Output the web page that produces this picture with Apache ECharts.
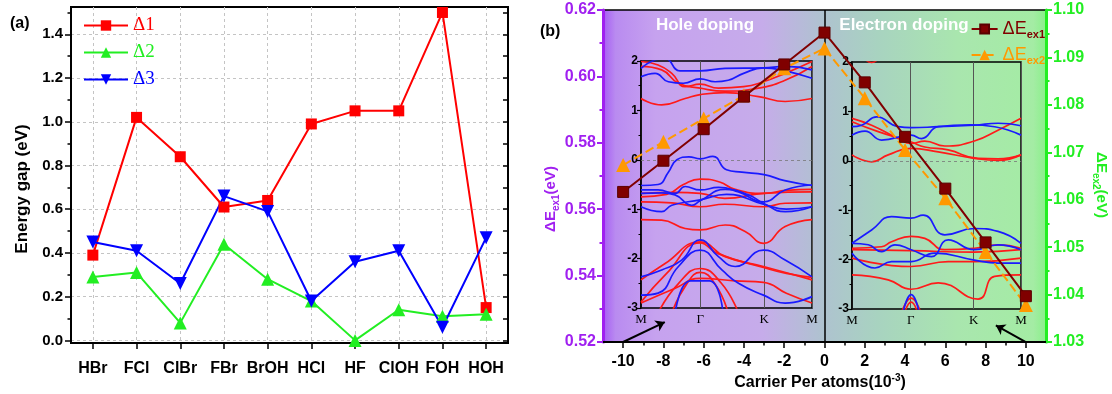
<!DOCTYPE html>
<html>
<head>
<meta charset="utf-8">
<script src="https://cdn.jsdelivr.net/npm/echarts@6/dist/echarts.min.js"></script>
<style>
html,body{margin:0;padding:0;background:#fff;}
#chart{width:1112px;height:394px;}
</style>
</head>
<body>
<div id="chart"></div>
<script>
// ---------- (a) energy gaps of the Janus structures ----------
const categories = ['HBr','FCl','ClBr','FBr','BrOH','HCl','HF','ClOH','FOH','HOH'];
const delta1 = [0.39,1.02,0.84,0.61,0.64,0.99,1.05,1.05,1.50,0.15];
const delta2 = [0.29,0.31,0.08,0.44,0.28,0.18,0.00,0.14,0.11,0.12];
const delta3 = [0.45,0.41,0.26,0.66,0.59,0.18,0.36,0.41,0.06,0.47];
const gapTicks = [0,0.2,0.4,0.6,0.8,1.0,1.2,1.4];
const gapMinorTicks = [0.1,0.3,0.5,0.7,0.9,1.1,1.3,1.5];
const gapRightTicks = [0,0.1,0.2,0.3,0.4,0.5,0.6,0.7,0.8,0.9,1.0,1.1,1.2,1.3,1.4,1.5];

// ---------- (b) exchange energies vs. carrier concentration ----------
const carrier = [-10,-8,-6,-4,-2,0,2,4,6,8,10];
const dEex1 = [0.5652,0.5746,0.5841,0.5939,0.6036,0.6132,0.5982,0.5818,0.5662,0.5500,0.5338];
const dEex2 = [1.0673,1.0722,1.0771,1.0820,1.0877,1.0919,1.0814,1.0705,1.0603,1.0490,1.0378];
const carrierTicks = [-10,-8,-6,-4,-2,0,2,4,6,8,10];
const carrierMinorTicks = [-9,-7,-5,-3,-1,1,3,5,7,9];
// arrows from the end points to the band-structure insets: [tail, head]
const arrowNotes = [
  [[-10,0.52],[-7.93,0.526]],
  [[10,0.52],[8.51,0.525]]
];

// ---------- band structures (k along M-Γ-K-M, energy in eV) ----------
const kTicks = [0,0.347,0.72,1];
const kLabels = ['M','Γ','K','M'];
const holeRed = [
  [[0,1.99],[0.1,1.92],[0.18,1.75],[0.258,1.48],[0.346,1.53],[0.453,1.45],[0.6,1.48],[0.716,1.58],[0.843,1.75],[1,1.99]],
  [[0,1.89],[0.121,1.82],[0.219,1.55],[0.346,1.45],[0.492,1.39],[0.687,1.45],[0.843,1.61],[1,1.89]],
  [[0,1.24],[0.121,1.11],[0.258,1.24],[0.346,1.32],[0.492,1.36],[0.687,1.28],[0.843,1.18],[1,1.24]],
  [[0,-0.75],[0.15,-0.7],[0.248,-0.5],[0.346,-0.39],[0.46,-0.45],[0.55,-0.6],[0.716,-0.68],[0.85,-0.62],[1,-0.6]],
  [[0,-0.68],[0.2,-0.66],[0.346,-0.68],[0.49,-0.78],[0.716,-0.68],[1,-0.65]],
  [[0,-0.85],[0.18,-0.87],[0.346,-0.95],[0.49,-0.9],[0.716,-0.95],[0.843,-0.88],[1,-0.87]],
  [[0,-1.21],[0.121,-1.22],[0.258,-1.39],[0.346,-1.42],[0.492,-1.32],[0.609,-1.45],[0.716,-1.69],[0.843,-1.35],[1,-1.21]],
  [[0,-2.43],[0.141,-2.1],[0.346,-1.66],[0.492,-1.96],[0.716,-2.16],[1,-2.43]],
  [[0,-2.88],[0.15,-2.3],[0.346,-1.68],[0.45,-1.9],[0.716,-2.18],[0.85,-2.3],[1,-2.38]],
  [[0.1,-3.1],[0.22,-2.5],[0.346,-2.2],[0.47,-2.5],[0.57,-3.1]],
  [[0.18,-3.1],[0.27,-2.5],[0.346,-2.28],[0.43,-2.5],[0.51,-3.1]],
  [[0,-2.9],[0.2,-2.6],[0.346,-2.4],[0.55,-2.45],[0.716,-2.48],[0.85,-2.7],[1,-2.9]]
];
const holeBlue = [
  [[0,1.85],[0.082,2.02],[0.141,2.05],[0.228,1.8],[0.346,1.8],[0.492,1.85],[0.716,1.86],[0.843,1.89],[1,1.82]],
  [[0,1.68],[0.082,1.75],[0.16,1.58],[0.248,1.55],[0.346,1.64],[0.433,1.58],[0.51,1.61],[0.6,1.75],[0.716,1.86],[0.843,1.8],[1,1.65]],
  [[0,-0.52],[0.1,-0.5],[0.16,-0.25],[0.21,0.0],[0.28,0.06],[0.346,0.02],[0.42,0.07],[0.5,-0.2],[0.59,-0.25],[0.72,-0.3],[0.84,-0.42],[1,-0.52]],
  [[0,-0.61],[0.1,-0.61],[0.199,-0.68],[0.258,-0.54],[0.346,-0.61],[0.453,-0.56],[0.57,-0.65],[0.716,-0.85],[0.843,-0.61],[1,-0.51]],
  [[0,-0.68],[0.121,-0.67],[0.199,-0.71],[0.297,-0.92],[0.346,-0.83],[0.492,-0.6],[0.629,-0.71],[0.716,-0.88],[0.843,-1.05],[1,-0.95]],
  [[0,-0.95],[0.121,-1.05],[0.18,-0.92],[0.346,-0.81],[0.5,-0.7],[0.716,-0.9],[0.85,-1.0],[1,-0.95]],
  [[0,-2.37],[0.121,-2.23],[0.238,-2.03],[0.346,-1.62],[0.453,-1.96],[0.551,-2.16],[0.716,-1.83],[0.843,-2.03],[1,-2.37]],
  [[0,-2.74],[0.1,-2.7],[0.219,-2.16],[0.346,-1.83],[0.473,-2.23],[0.57,-2.5],[0.716,-2.74],[0.843,-2.9],[1,-2.77]],
  [[0.2,-3.1],[0.29,-2.45],[0.4,-2.45],[0.48,-3.1]]
];
const elecRed = [
  [[0.07,2.08],[0.116,1.99],[0.16,2.08]],
  [[0,0.86],[0.116,0.72],[0.273,0.45],[0.35,0.35],[0.431,0.4],[0.549,0.3],[0.724,0.4],[0.864,0.62],[1,0.86]],
  [[0,0.79],[0.155,0.59],[0.35,0.38],[0.431,0.28],[0.569,0.22],[0.746,0.05],[0.864,0.04],[1,0.12]],
  [[0,0.12],[0.116,-0.02],[0.214,0.12],[0.35,0.25],[0.51,0.18],[0.724,0.05],[0.864,0.01],[1,0.12]],
  [[0,-1.77],[0.175,-1.74],[0.234,-1.64],[0.35,-1.53],[0.431,-1.57],[0.549,-1.8],[0.724,-1.77],[0.864,-1.7],[1,-1.77]],
  [[0,-1.8],[0.35,-1.82],[0.724,-1.85],[1,-1.8]],
  [[0,-1.97],[0.35,-2.14],[0.569,-2.04],[0.724,-2.04],[1,-1.97]],
  [[0,-2.31],[0.214,-2.41],[0.35,-2.6],[0.51,-2.47],[0.746,-2.8],[0.844,-2.34],[1,-2.31]],
  [[0.29,-3.1],[0.35,-2.78],[0.41,-3.1]],
  [[0.31,-3.1],[0.35,-2.86],[0.39,-3.1]]
];
const elecBlue = [
  [[0,0.69],[0.057,0.72],[0.146,0.89],[0.273,0.69],[0.35,0.67],[0.51,0.69],[0.724,0.72],[0.864,0.76],[1,0.71]],
  [[0,0.52],[0.077,0.6],[0.175,0.42],[0.35,0.52],[0.411,0.45],[0.51,0.69],[0.7,0.73],[0.844,0.69],[1,0.52]],
  [[0,-1.67],[0.116,-1.4],[0.234,-1.13],[0.35,-1.16],[0.421,-1.1],[0.549,-1.5],[0.724,-1.37],[0.864,-1.43],[1,-1.67]],
  [[0,-1.67],[0.096,-1.7],[0.175,-1.84],[0.254,-1.7],[0.35,-1.8],[0.47,-1.94],[0.569,-1.6],[0.724,-1.8],[0.864,-1.7],[1,-1.8]],
  [[0,-1.87],[0.136,-2.17],[0.234,-2.04],[0.35,-2.04],[0.49,-1.87],[0.724,-2.01],[0.864,-2.07],[1,-2.07]],
  [[0.3,-3.1],[0.35,-2.71],[0.4,-3.1]]
];

// ---------- styling ----------
const SANS = 'Arial, "Liberation Sans", sans-serif';
const SERIF = '"Times New Roman", "Liberation Serif", serif';
const RED = '#ff0000', GREEN = '#22ee22', BLUE = '#0000ff';
const PURPLE = '#a020f0', LIME = '#22ee22';
const DARKRED = '#800000', ORANGE = '#ff9900';
const BAND_RED = '#ff1a1a', BAND_BLUE = '#1a1aff';

const chart = echarts.init(document.getElementById('chart'), null, {renderer: 'canvas'});

function bandSeries(bands, color, xi, yi, withZero) {
  return bands.map((pts, i) => {
    const s = {
      type: 'line', xAxisIndex: xi, yAxisIndex: yi, data: pts,
      smooth: 0.5, symbol: 'none', silent: true, z: 1,
      lineStyle: {color: color, width: 1.7}
    };
    if (withZero && i === 0) {
      s.markLine = {
        silent: true, symbol: 'none', label: {show: false},
        lineStyle: {type: [3, 3], color: '#777', width: 0.8},
        data: [{yAxis: 0}]
      };
    }
    return s;
  });
}

function insetX(gi) {
  return {
    gridIndex: gi, type: 'value', min: 0, max: 1,
    axisLine: {show: false, onZero: false},
    axisTick: {show: false, customValues: kTicks},
    axisLabel: {customValues: kTicks, formatter: v => kLabels[kTicks.indexOf(v)],
      fontFamily: SERIF, fontSize: 13, color: '#000', margin: 5},
    splitLine: {show: true, lineStyle: {color: '#555', width: 1}}
  };
}
function insetY(gi) {
  return {
    gridIndex: gi, type: 'value', min: -3, max: 2, interval: 1,
    axisLine: {show: true, onZero: false, lineStyle: {color: '#000', width: 1.5}},
    axisTick: {show: true, length: 4, lineStyle: {color: '#000', width: 1.2}},
    minorTick: {show: true, splitNumber: 2, length: 2.5, lineStyle: {color: '#000', width: 1}},
    axisLabel: {fontFamily: SANS, fontWeight: 'bold', fontSize: 12, color: '#000', margin: 3},
    splitLine: {show: false}
  };
}

const subRich = (color, size) => ({
  m: {fontFamily: SANS, fontSize: size, color: color, fill: color},
  s: {fontFamily: SANS, fontSize: 11, fontWeight: 'bold', color: color, fill: color,
      verticalAlign: 'bottom', padding: [12, 0, 0, 0]}
});

const option = {
  animation: false,
  backgroundColor: '#ffffff',
  grid: [
    {left: 71, top: 7, width: 437, height: 336, show: true, borderColor: '#000', borderWidth: 2, backgroundColor: '#ffffff'},
    {left: 603, top: 10, width: 443, height: 332, show: true, borderColor: '#000', borderWidth: 1.5,
     backgroundColor: {type: 'linear', x: 0, y: 0, x2: 1, y2: 0, colorStops: [
       {offset: 0, color: '#a65af4'}, {offset: 0.03, color: '#b98bf0'}, {offset: 0.12, color: '#c6a2ef'},
       {offset: 0.36, color: '#c6acea'}, {offset: 0.5, color: '#aec3cf'}, {offset: 0.62, color: '#a8d3c0'},
       {offset: 0.8, color: '#a9e6ae'}, {offset: 0.97, color: '#a4eca4'}, {offset: 1, color: '#88f088'}]}},
    {left: 641, top: 61, width: 171, height: 247, show: true, borderColor: '#000', borderWidth: 1.5, backgroundColor: 'transparent'},
    {left: 852, top: 62, width: 169, height: 247, show: true, borderColor: '#000', borderWidth: 1.5, backgroundColor: 'transparent'}
  ],
  xAxis: [
    {gridIndex: 0, type: 'value', min: -0.5, max: 9.5,
     axisLine: {show: true, onZero: false, lineStyle: {color: '#000', width: 2}},
     axisTick: {show: true, customValues: categories.map((c, i) => i), length: 6, lineStyle: {color: '#000', width: 1.5}},
     axisLabel: {customValues: categories.map((c, i) => i), formatter: v => categories[v],
       fontFamily: SANS, fontWeight: 'bold', fontSize: 16, color: '#000', margin: 18},
     splitLine: {show: true, lineStyle: {type: [3, 3], color: '#c4c4c4', width: 1}}},
    {gridIndex: 1, type: 'value', min: -11, max: 11,
     axisLine: {show: true, onZero: false, lineStyle: {color: '#000', width: 2}},
     axisTick: {show: true, customValues: carrierTicks, length: 6, lineStyle: {color: '#000', width: 1.5}},
     axisLabel: {customValues: carrierTicks, fontFamily: SANS, fontWeight: 'bold', fontSize: 16, color: '#000', margin: 12},
     splitLine: {show: false}},
    {gridIndex: 1, type: 'value', min: -11, max: 11, position: 'bottom',
     axisLine: {show: false, onZero: false},
     axisTick: {show: true, customValues: carrierMinorTicks, length: 3.5, lineStyle: {color: '#000', width: 1.5}},
     axisLabel: {show: false}, splitLine: {show: false}},
    insetX(2),
    insetX(3)
  ],
  yAxis: [
    {gridIndex: 0, type: 'value', min: -0.012, max: 1.525, position: 'left',
     axisLine: {show: true, onZero: false, lineStyle: {color: '#000', width: 2}},
     axisTick: {show: true, customValues: gapTicks, length: 6, lineStyle: {color: '#000', width: 1.5}},
     axisLabel: {customValues: gapTicks, formatter: v => v.toFixed(1),
       fontFamily: SANS, fontWeight: 'bold', fontSize: 15, color: '#000', margin: 8},
     splitLine: {show: true, lineStyle: {type: [3, 3], color: '#c4c4c4', width: 1}}},
    {gridIndex: 0, type: 'value', min: -0.012, max: 1.525, position: 'left',
     axisLine: {show: false, onZero: false},
     axisTick: {show: true, customValues: gapMinorTicks, length: 3.5, lineStyle: {color: '#000', width: 1.5}},
     axisLabel: {show: false}, splitLine: {show: false}},
    {gridIndex: 0, type: 'value', min: -0.012, max: 1.525, position: 'right',
     axisLine: {show: true, onZero: false, lineStyle: {color: '#000', width: 2}},
     axisTick: {show: true, inside: true, customValues: gapRightTicks, length: 5, lineStyle: {color: '#000', width: 1.5}},
     axisLabel: {show: false}, splitLine: {show: false}},
    {gridIndex: 1, type: 'value', min: 0.52, max: 0.62, interval: 0.02, position: 'left',
     axisLine: {show: true, onZero: false, lineStyle: {color: PURPLE, width: 3}},
     axisTick: {show: true, length: 6, lineStyle: {color: PURPLE, width: 2}},
     minorTick: {show: true, splitNumber: 2, length: 3.5, lineStyle: {color: PURPLE, width: 2}},
     axisLabel: {formatter: v => v.toFixed(2), fontFamily: SANS, fontWeight: 'bold', fontSize: 16, color: PURPLE, margin: 7},
     splitLine: {show: false}},
    {gridIndex: 1, type: 'value', min: 1.03, max: 1.10, interval: 0.01, position: 'right',
     axisLine: {show: true, onZero: false, lineStyle: {color: LIME, width: 3}},
     axisTick: {show: true, length: 6, lineStyle: {color: LIME, width: 2}},
     minorTick: {show: true, splitNumber: 2, length: 3.5, lineStyle: {color: LIME, width: 2}},
     axisLabel: {formatter: v => v.toFixed(2), fontFamily: SANS, fontWeight: 'bold', fontSize: 16, color: LIME, margin: 7},
     splitLine: {show: false}},
    insetY(2),
    insetY(3)
  ],
  legend: [
    {orient: 'vertical', left: 83, top: 16, padding: 0, itemWidth: 44, itemHeight: 13, itemGap: 8,
     textStyle: {fontFamily: SERIF, fontSize: 19},
     data: [{name: 'Δ1', textStyle: {color: RED}}, {name: 'Δ2', textStyle: {color: GREEN}}, {name: 'Δ3', textStyle: {color: BLUE}}]},
    {right: 67, top: 20, padding: 0, itemWidth: 26, itemHeight: 11, data: ['ΔEex1'],
     formatter: () => '{m|ΔE}{s|ex1}', textStyle: {color: DARKRED, rich: subRich(DARKRED, 18)}},
    {right: 67, top: 46, padding: 0, itemWidth: 26, itemHeight: 13, data: ['ΔEex2'],
     formatter: () => '{m|ΔE}{s|ex2}', textStyle: {color: ORANGE, rich: subRich(ORANGE, 18)}}
  ],
  series: [
    ...bandSeries(holeRed, BAND_RED, 3, 5, true),
    ...bandSeries(holeBlue, BAND_BLUE, 3, 5, false),
    ...bandSeries(elecRed, BAND_RED, 4, 6, true),
    ...bandSeries(elecBlue, BAND_BLUE, 4, 6, false),
    {name: 'Δ1', type: 'line', xAxisIndex: 0, yAxisIndex: 0, z: 4,
     data: delta1.map((v, i) => [i, v]), symbol: 'rect', symbolSize: 11,
     lineStyle: {color: RED, width: 2}, itemStyle: {color: RED}},
    {name: 'Δ2', type: 'line', xAxisIndex: 0, yAxisIndex: 0, z: 4,
     data: delta2.map((v, i) => [i, v]), symbol: 'triangle', symbolSize: 13,
     lineStyle: {color: GREEN, width: 2}, itemStyle: {color: GREEN}},
    {name: 'Δ3', type: 'line', xAxisIndex: 0, yAxisIndex: 0, z: 4,
     data: delta3.map((v, i) => [i, v]), symbol: 'triangle', symbolRotate: 180, symbolSize: 13,
     lineStyle: {color: BLUE, width: 2}, itemStyle: {color: BLUE}},
    {name: 'ΔEex2', type: 'line', xAxisIndex: 1, yAxisIndex: 4, z: 5,
     data: carrier.map((c, i) => [c, dEex2[i]]), symbol: 'triangle', symbolSize: 14,
     lineStyle: {color: ORANGE, width: 2, type: [9, 4]}, itemStyle: {color: ORANGE},
     markLine: {silent: true, symbol: 'none', label: {show: false},
       lineStyle: {color: '#000', width: 1.5, type: 'solid'}, data: [{xAxis: 0}]}},
    {name: 'ΔEex1', type: 'line', xAxisIndex: 1, yAxisIndex: 3, z: 6,
     data: carrier.map((c, i) => [c, dEex1[i]]), symbol: 'rect', symbolSize: 11,
     lineStyle: {color: DARKRED, width: 2}, itemStyle: {color: DARKRED, borderColor: '#5a0000', borderWidth: 1},
     markLine: {silent: true, symbol: ['none', 'arrow'], symbolSize: 9, label: {show: false},
       lineStyle: {color: '#000', width: 2, type: 'solid'},
       data: arrowNotes.map(a => [{coord: a[0]}, {coord: a[1]}])}}
  ],
  graphic: [
    {type: 'text', x: 10, y: 24, z: 100, style: {text: '(a)', font: 'bold 16px ' + SANS, fill: '#000', align: 'left', verticalAlign: 'middle'}},
    {type: 'text', x: 540, y: 32, z: 100, style: {text: '(b)', font: 'bold 16px ' + SANS, fill: '#000', align: 'left', verticalAlign: 'middle'}},
    {type: 'text', x: 22, y: 189, rotation: Math.PI / 2, z: 100,
     style: {text: 'Energy gap (eV)', font: 'bold 17px ' + SANS, fill: '#000', align: 'center', verticalAlign: 'middle'}},
    {type: 'text', x: 705, y: 25, z: 100, style: {text: 'Hole doping', font: 'bold 17px ' + SANS, fill: '#ffffff', align: 'center', verticalAlign: 'middle'}},
    {type: 'text', x: 904, y: 25, z: 100, style: {text: 'Electron doping', font: 'bold 17px ' + SANS, fill: '#ffffff', align: 'center', verticalAlign: 'middle'}},
    {type: 'text', x: 820, y: 383, z: 100,
     style: {text: '{m|Carrier Per atoms(10}{p|-3}{m|)}', align: 'center', verticalAlign: 'middle', fill: '#000',
       rich: {m: {font: 'bold 16px ' + SANS, fill: '#000'},
              p: {font: 'bold 10px ' + SANS, fill: '#000', verticalAlign: 'top', padding: [0, 0, 10, 0]}}}},
    {type: 'text', x: 551, y: 199, rotation: Math.PI / 2, z: 100,
     style: {text: '{m|ΔE}{s|ex1}{m|(eV)}', align: 'center', verticalAlign: 'middle', fill: PURPLE,
       rich: {m: {font: 'bold 15px ' + SANS, fill: PURPLE},
              s: {font: 'bold 10px ' + SANS, fill: PURPLE, verticalAlign: 'bottom', padding: [10, 0, 0, 0]}}}},
    {type: 'text', x: 1101, y: 185, rotation: -Math.PI / 2, z: 100,
     style: {text: '{m|ΔE}{s|ex2}{m|(eV)}', align: 'center', verticalAlign: 'middle', fill: LIME,
       rich: {m: {font: 'bold 15px ' + SANS, fill: LIME},
              s: {font: 'bold 10px ' + SANS, fill: LIME, verticalAlign: 'bottom', padding: [10, 0, 0, 0]}}}}
  ]
};
chart.setOption(option);
</script>
</body>
</html>
